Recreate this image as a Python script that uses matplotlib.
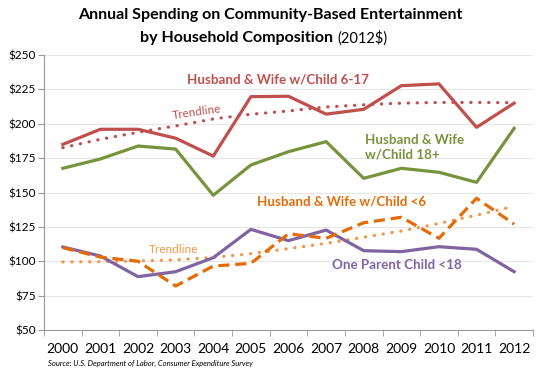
import matplotlib
matplotlib.use('Agg')
from matplotlib import pyplot as plt
import numpy as np

years = ['2000', '2001', '2002', '2003', '2004', '2005', '2006',
         '2007', '2008', '2009', '2010', '2011', '2012']
child_6_17 = [185, 196, 196, 189.5, 176.5, 219.7, 220, 207, 210.5, 227.7, 229, 197.4, 215]
trend_6_17 = [182.6, 188.7, 193.8, 198.4, 203.5, 206.9, 209.3, 212.2, 213.8, 215, 215.5, 215.5, 215.3]
child_18p = [167.6, 174.4, 183.8, 181.6, 148, 170, 179.7, 187, 160.3, 167.6, 164.7, 157.4, 196.7]
child_lt6 = [109.9, 103, 100, 82, 96.5, 98.5, 120, 116.7, 128, 132, 116.7, 145.8, 127]
trend_lt6 = [99.5, 99.7, 100.2, 101, 102.8, 105.5, 109.2, 113, 117.5, 122, 127.5, 133.5, 140]
one_parent = [110.4, 103.8, 88.8, 92.4, 102.6, 123.2, 115, 122.7, 107.7, 107, 110.6, 108.7, 92.4]

RED = '#c0504d'
GREEN = '#77933c'
ORANGE = '#e36c09'
PURPLE = '#8064a2'
DOT_ORANGE = '#f79646'

plt.rcParams['font.family'] = ['Lato', 'DejaVu Sans']

fig = plt.figure(figsize=(5.4, 3.76), dpi=100)
ax = fig.add_axes([0.0815, 0.1223, 0.9055, 0.7314])
x = np.arange(len(years))

ax.plot(x, trend_6_17, color=RED, lw=2.3, ls=(0, (0.1, 2.7)), dash_capstyle='round')
ax.plot(x, trend_lt6, color=DOT_ORANGE, lw=2.3, ls=(0, (0.1, 2.7)), dash_capstyle='round')
ax.plot(x, child_6_17, color=RED, lw=2.3)
ax.plot(x, child_18p, color=GREEN, lw=2.3)
ax.plot(x, one_parent, color=PURPLE, lw=2.3)
ax.plot(x, child_lt6, color=ORANGE, lw=2.3, ls=(0, (3.5, 1.8)))

ax.set_xlim(-0.5, 12.5)
ax.set_ylim(50, 250)
ax.set_yticks(range(50, 251, 25))
ax.set_yticklabels(['$%d' % v for v in range(50, 251, 25)], fontsize=8.5)
ax.set_xticks(x)
ax.set_xticklabels(years, fontsize=10)
ax.set_xticks(np.arange(-0.5, 12.6, 1), minor=True)
ax.tick_params(axis='x', which='major', length=0, pad=9)
ax.tick_params(axis='x', which='minor', length=4, color='#999999')
ax.tick_params(axis='y', length=4, color='#999999', pad=2)
ax.grid(axis='y', color='#e6e6e6', lw=0.8)
ax.set_axisbelow(True)
for s in ['top', 'right']:
    ax.spines[s].set_visible(False)
for s in ['left', 'bottom']:
    ax.spines[s].set_color('#999999')

ax.text(5.73, 232.5, 'Husband & Wife w/Child 6-17', color=RED, fontsize=9.6,
        fontweight='bold', ha='center', va='center')
ax.text(3.57, 208.5, 'Trendline', color=RED, fontsize=8.5, ha='center',
        va='center', rotation=8)
ax.text(8.03, 183, 'Husband & Wife\nw/Child 18+', color=GREEN, fontsize=9.6,
        fontweight='bold', ha='left', va='center', linespacing=1.25)
ax.text(7.42, 143.5, 'Husband & Wife w/Child <6', color=ORANGE, fontsize=9.6,
        fontweight='bold', ha='center', va='center')
ax.text(2.94, 108.5, 'Trendline', color=DOT_ORANGE, fontsize=8.5, ha='center',
        va='center')
ax.text(8.87, 97.5, 'One Parent Child <18', color=PURPLE, fontsize=9.6,
        fontweight='bold', ha='center', va='center')

fig.text(0.5, 0.96, 'Annual Spending on Community-Based Entertainment',
         fontsize=11.5, fontweight='bold', ha='center', va='center')
t = fig.text(0.5, 0.9, 'by Household Composition', fontsize=11.5,
             fontweight='bold', ha='right', va='center')
fig.text(0.0889, 0.032, 'Source: U.S. Department of Labor, Consumer Expenditure Survey',
         fontsize=5.5, style='italic', ha='left', va='center')

# place the "(2012$)" after the bold part of the second title line
fig.canvas.draw()
bb = t.get_window_extent()
x0 = 140
t.set_ha('left')
t.set_x(x0 / 540)
fig.text((x0 + bb.width + 4) / 540, 0.9, '(2012$)', fontsize=10.5,
         ha='left', va='center')

fig.savefig('out.png', dpi=100)
